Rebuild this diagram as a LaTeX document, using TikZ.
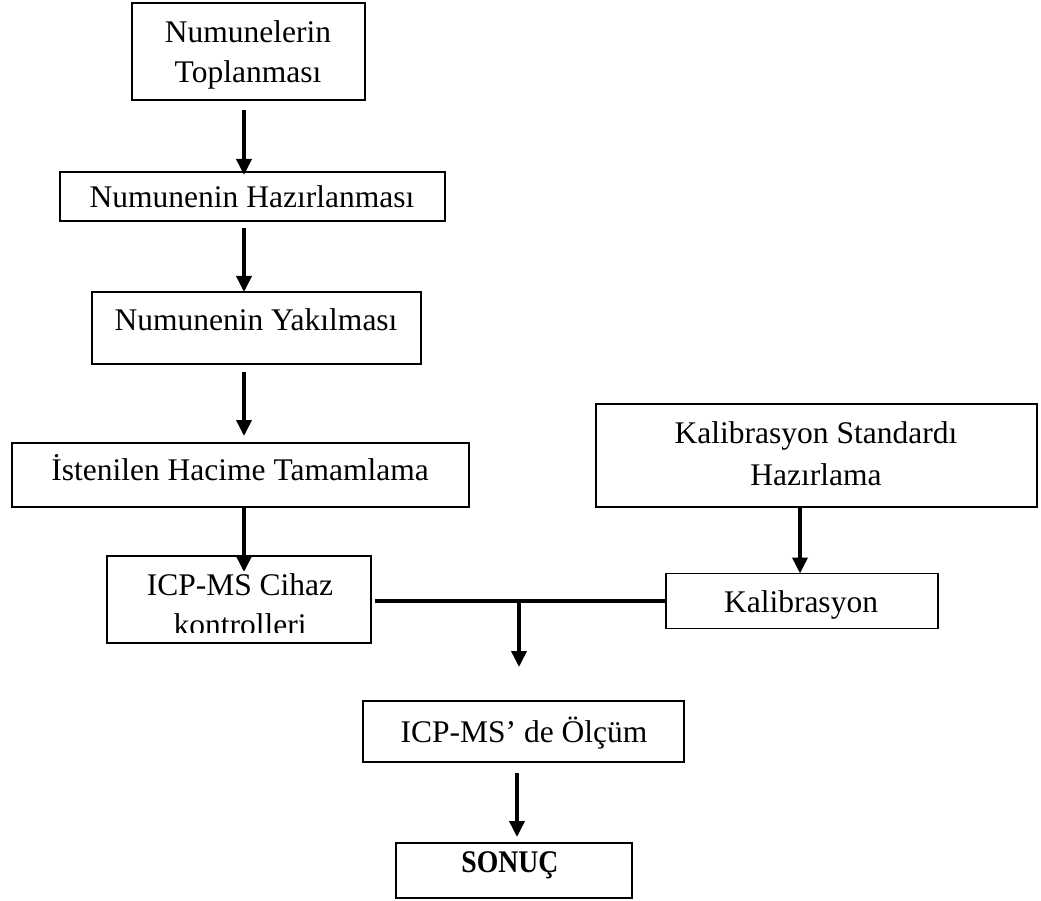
\documentclass[tikz,border=0pt]{standalone}
\usepackage{fontspec}
\setmainfont{Liberation Serif}
\usetikzlibrary{arrows.meta}
\begin{document}
\begin{tikzpicture}[x=1pt,y=-1pt,
  box/.style={draw=black,line width=1.6pt,inner sep=0pt,outer sep=0pt},
  lbl/.style={anchor=base,inner sep=0pt,font=\fontsize{31.5}{40}\selectfont},
  arr/.style={line width=3.6pt,-{Triangle[width=15pt,length=16pt]}},
  conn/.style={line width=3.6pt}]
\useasboundingbox (0,0) rectangle (1041,901);
% boxes
\node[box,minimum width=233pt,minimum height=97pt] (b1) at (248.5,51.5) {};
\node[box,minimum width=385pt,minimum height=49pt] (b2) at (252.5,196.5) {};
\node[box,minimum width=329pt,minimum height=72pt] (b3) at (256.5,328) {};
\node[box,minimum width=457pt,minimum height=64pt] (b4) at (240.5,475) {};
\node[box,minimum width=264pt,minimum height=87pt] (b5) at (239,599.5) {};
\node[box,minimum width=441pt,minimum height=103pt] (b6) at (816.5,455.5) {};
\node[box,minimum width=272pt,minimum height=55pt] (b7) at (802,601) {};
\node[box,minimum width=321pt,minimum height=61pt] (b8) at (523.5,731.5) {};
\node[box,minimum width=236pt,minimum height=55pt] (b9) at (514,870.5) {};
% texts
\node[lbl] (t1a) at (248,43) {Numunelerin};
\node[lbl] (t1b) at (248,83) {Toplanması};
\node[lbl] (t2) at (252,208) {Numunenin Hazırlanması};
\node[lbl] (t3) at (256,330) {Numunenin Yakılması};
\node[lbl] (t4) at (240,480) {İstenilen Hacime Tamamlama};
\node[lbl] (t5a) at (240,595) {ICP-MS Cihaz};
\begin{scope}
\clip (107,556) rectangle (371,632);
\node[lbl] (t5b) at (240,635) {kontrolleri};
\end{scope}
\node[lbl] (t6a) at (816,443) {Kalibrasyon Standardı};
\node[lbl] (t6b) at (816,485) {Hazırlama};
\node[lbl] (t7) at (801,612) {Kalibrasyon};
\node[lbl] (t8) at (524,742) {ICP-MS’ de Ölçüm};
\node[lbl,font=\fontsize{31.5}{40}\selectfont\bfseries] (t9) at (510,872) {\scalebox{0.88}[1]{SONUÇ}};
% columns
\coordinate (colA) at (244,0);
\coordinate (colB) at (800,0);
\coordinate (colC) at (519,0);
\coordinate (colD) at (517,0);
% connectors
\draw[arr] ([yshift=-10pt]b1.south -| colA) -- ([yshift=-3pt]b2.north -| colA);
\draw[arr] ([yshift=-7pt]b2.south -| colA) -- (b3.north -| colA);
\draw[arr] ([yshift=-8pt]b3.south -| colA) -- ([yshift=7pt]b4.north -| colA);
\draw[arr] (b4.south -| colA) -- ([yshift=-16pt]b5.north -| colA);
\draw[arr] (b6.south -| colB) -- (b7.north -| colB);
\coordinate (join) at (b7.west -| colC);
\draw[conn] ([xshift=4pt]b5.east |- b7.west) -- (b7.west);
\draw[arr] (join) -- ([yshift=34pt]b8.north -| colC);
\draw[arr] ([yshift=-11pt]b8.south -| colD) -- ([yshift=6pt]b9.north -| colD);
\end{tikzpicture}
\end{document}
